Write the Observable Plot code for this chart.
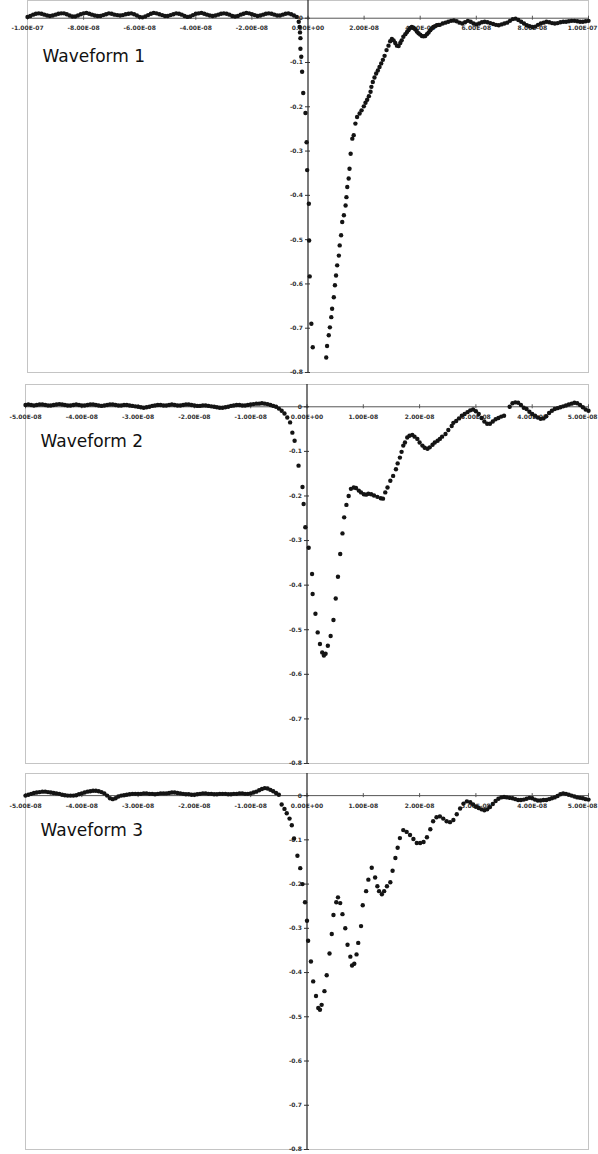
<!DOCTYPE html>
<html><head><meta charset="utf-8">
<script src="https://cdn.jsdelivr.net/npm/d3@7"></script>
<script src="https://cdn.jsdelivr.net/npm/@observablehq/plot@0.6"></script>
<style>
html,body{margin:0;padding:0;background:#fff;}
body{width:598px;height:1154px;overflow:hidden;position:relative;font-family:"DejaVu Sans",sans-serif;}
.panel{position:absolute;left:0;}
</style></head><body>
<div id="p1" class="panel" style="top:0px"></div>
<div id="p2" class="panel" style="top:380px"></div>
<div id="p3" class="panel" style="top:767px"></div>
<script>
// ---- tick values (ns) and labels ----
const xTicks1 = [-100,-80,-60,-40,-20,0,20,40,60,80,100];
const xLabels1 = ["-1.00E-07","-8.00E-08","-6.00E-08","-4.00E-08","-2.00E-08","0.00E+00","2.00E-08","4.00E-08","6.00E-08","8.00E-08","1.00E-07"];
const xTicks23 = [-50,-40,-30,-20,-10,0,10,20,30,40,50];
const xLabels23 = ["-5.00E-08","-4.00E-08","-3.00E-08","-2.00E-08","-1.00E-08","0.00E+00","1.00E-08","2.00E-08","3.00E-08","4.00E-08","5.00E-08"];
const yTicks = [0,-0.1,-0.2,-0.3,-0.4,-0.5,-0.6,-0.7,-0.8];
const yLabels = ["0","-0.1","-0.2","-0.3","-0.4","-0.5","-0.6","-0.7","-0.8"];
const titles = ["Waveform 1","Waveform 2","Waveform 3"];

// ---- Waveform 1 (time in ns, amplitude) ----
const w1PreStart = -100, w1PreStep = 1;
const w1Pre = [.003,.005,.008,.010,.011,.010,.008,.006,.005,.006,
 .008,.010,.011,.011,.009,.006,.004,.004,.006,.009,
 .011,.012,.010,.008,.006,.005,.005,.007,.009,.011,
 .010,.008,.007,.006,.007,.009,.010,.011,.009,.006,
 .003,.002,.004,.007,.010,.012,.011,.009,.007,.005,
 .005,.007,.009,.011,.010,.008,.005,.003,.004,.007,
 .010,.011,.012,.010,.008,.006,.005,.006,.008,.010,
 .011,.010,.008,.005,.004,.005,.008,.010,.012,.011,
 .009,.007,.005,.006,.008,.010,.011,.010,.008,.006,
 .006,.008,.010,.011,.009,.006,.003];
const w1PulseT = [-3.3,-3.0,-2.85,-2.7,-2.7,-2.4,-2.1,-1.7,-0.9,-0.5,
 -0.3,0.3,0.4,0.6,1.2,1.7,6.5,6.8,7.4,7.8,
 8.3,8.6,9.2,9.6,10.0,10.4,11.0,11.3,11.8,12.2,
 12.8,13.4,13.7,14.0,14.5,14.8,15.2,15.8,16.3,16.9,
 17.5,18.4,19.1,19.9,20.5,21.1,21.7,22.3,22.6,23.1,
 23.7,24.3,24.9,25.5,26.1,26.7,27.3,28.0,28.7,29.3,
 29.9,30.5,31.1,31.7,32.3,32.9,33.4,34.0,34.7,35.3,
 35.8,36.4,37.0,37.6,38.2,38.8,39.4,40.0,40.6,41.2,
 41.8,42.4,43.0,43.6,44.1,44.7,45.3,45.9,46.5];
const w1PulseV = [-0.008,-0.02,-0.032,-0.045,-0.069,-0.087,-0.121,-0.169,-0.214,-0.28,
 -0.343,-0.419,-0.502,-0.583,-0.69,-0.743,-0.766,-0.74,-0.716,-0.698,
 -0.675,-0.656,-0.63,-0.603,-0.581,-0.558,-0.536,-0.513,-0.49,-0.46,
 -0.445,-0.423,-0.404,-0.381,-0.362,-0.34,-0.306,-0.272,-0.264,-0.238,
 -0.223,-0.215,-0.208,-0.199,-0.191,-0.184,-0.176,-0.166,-0.155,-0.144,
 -0.134,-0.125,-0.118,-0.11,-0.102,-0.094,-0.085,-0.072,-0.062,-0.052,
 -0.047,-0.05,-0.056,-0.062,-0.063,-0.056,-0.05,-0.042,-0.036,-0.031,
 -0.027,-0.022,-0.02,-0.022,-0.025,-0.03,-0.034,-0.037,-0.04,-0.041,
 -0.04,-0.036,-0.032,-0.027,-0.023,-0.02,-0.018,-0.016,-0.015];
const w1PostStart = 47, w1PostStep = 1;
const w1Post = [-.015,-.012,-.010,-.008,-.006,-.005,-.007,-.010,-.012,-.009,
 -.006,-.008,-.012,-.014,-.012,-.009,-.008,-.009,-.011,-.013,
 -.015,-.016,-.014,-.012,-.010,-.006,-.002,-.001,-.004,-.008,
 -.012,-.016,-.018,-.020,-.019,-.015,-.012,-.010,-.008,-.009,
 -.011,-.012,-.011,-.009,-.008,-.008,-.007,-.006,-.006,-.007,
 -.008,-.008,-.007,-.006];

// ---- Waveform 2 ----
const w2PreStart = -50, w2PreStep = 0.5;
const w2Pre = [.004,.005,.004,.003,.004,.005,.005,.004,.003,.003,
 .004,.005,.006,.005,.004,.003,.003,.004,.005,.004,
 .003,.003,.004,.005,.005,.004,.003,.002,.003,.004,
 .005,.005,.004,.003,.003,.004,.004,.003,.002,.001,
 .000,-.001,-.002,-.001,.000,.002,.003,.004,.004,.003,
 .003,.004,.005,.004,.003,.003,.004,.005,.005,.004,
 .003,.002,.002,.003,.003,.002,.001,.000,-.001,-.002,
 -.002,-.001,.000,.002,.003,.004,.004,.003,.003,.004,
 .005,.006,.007,.007,.008,.007,.006,.004,.002,.000];
const w2PulseT = [-5,-4.5,-4,-3.5,-3,-2.6,-2.2,-1.5,-0.8,-0.6,
 -0.3,0.3,0.9,1.0,1.5,1.9,2.3,2.7,3.0,3.3,
 3.7,4.2,4.7,5.1,5.5,5.9,6.3,6.6,7.0,7.4,
 7.8,8.3,8.7,9.2,9.6,10.1,10.5,10.9,11.4,11.9,
 12.5,13.1,13.5,13.9,14.3,14.8,15.3,15.8,16.1,16.5,
 16.8,17.1,17.4,17.8,18.2,18.7,19.1,19.6,20.0,20.5,
 20.9,21.4,21.8,22.3,22.7,23.2,23.6,24.0,24.6,25.1,
 25.7,26.0];
const w2PulseV = [-0.004,-0.009,-0.015,-0.024,-0.035,-0.058,-0.076,-0.132,-0.18,-0.218,
 -0.27,-0.316,-0.375,-0.42,-0.464,-0.506,-0.532,-0.551,-0.558,-0.554,
 -0.536,-0.514,-0.478,-0.43,-0.381,-0.33,-0.284,-0.248,-0.22,-0.2,
 -0.184,-0.181,-0.182,-0.188,-0.192,-0.196,-0.197,-0.195,-0.196,-0.199,
 -0.202,-0.205,-0.206,-0.192,-0.181,-0.166,-0.155,-0.14,-0.127,-0.114,
 -0.101,-0.087,-0.08,-0.069,-0.065,-0.063,-0.067,-0.072,-0.08,-0.087,
 -0.092,-0.094,-0.091,-0.085,-0.08,-0.076,-0.072,-0.067,-0.061,-0.052,
 -0.043,-0.036];
const w2PostStart = 26.5, w2PostStep = 0.5;
const w2Post = [-.032,-.026,-.020,-.016,-.012,-.008,-.006,-.010,-.016,-.025,
 -.033,-.038,-.038,-.033,-.028,-.025,-.022,-.020,null,.000,
 .008,.010,.009,.004,-.002,-.005,-.011,-.016,-.020,-.024,
 -.027,-.026,-.021,-.014,-.009,-.005,-.003,-.001,.001,.003,
 .005,.007,.009,.008,.004,-.001,-.006,-.009];

// ---- Waveform 3 ----
const w3PreStart = -50, w3PreStep = 0.5;
const w3Pre = [.000,.002,.004,.006,.007,.008,.009,.009,.008,.007,
 .006,.005,.004,.002,.001,.000,.000,.000,.001,.003,
 .005,.007,.009,.010,.011,.011,.010,.008,.005,.000,
 -.006,-.008,-.006,-.002,.000,.001,.002,.003,.004,.004,
 .004,.004,.005,.005,.004,.004,.003,.004,.005,.005,
 .005,.006,.007,.007,.006,.005,.004,.003,.003,.002,
 .002,.003,.004,.005,.005,.004,.004,.003,.003,.004,
 .004,.004,.003,.003,.004,.004,.005,.005,.004,.004,
 .005,.007,.009,.012,.015,.017,.016,.013,.010,.006,
 .002];
const w3PulseT = [-4.5,-4.0,-3.6,-3.1,-2.7,-2.3,-1.7,-1.2,-0.8,-0.35,
 0.0,0.2,0.7,1.1,1.6,2.0,2.3,2.6,3.1,3.5,
 4.0,4.4,4.7,5.2,5.5,5.9,6.3,6.8,7.2,7.7,
 8.0,8.4,8.8,9.1,9.6,9.9,10.5,10.9,11.5,12.1,
 12.5,12.8,13.3,13.7,14.2,14.8,15.2,15.7,16.1,16.5,
 17.1,17.7,18.3,18.9,19.5,20.1,20.7,21.3,21.9,22.4,
 23.0,23.6,24.2,24.8,25.4,26.0,26.6,27.2,27.8,28.4,
 29.0,29.5,30.0];
const w3PulseV = [-0.02,-0.03,-0.04,-0.052,-0.067,-0.097,-0.136,-0.164,-0.2,-0.241,
 -0.283,-0.328,-0.375,-0.42,-0.453,-0.48,-0.484,-0.473,-0.442,-0.406,
 -0.357,-0.313,-0.27,-0.241,-0.23,-0.243,-0.268,-0.3,-0.337,-0.364,
 -0.384,-0.38,-0.359,-0.333,-0.295,-0.248,-0.216,-0.19,-0.163,-0.185,
 -0.205,-0.216,-0.223,-0.216,-0.205,-0.196,-0.17,-0.141,-0.118,-0.096,
 -0.078,-0.082,-0.089,-0.098,-0.107,-0.107,-0.105,-0.094,-0.076,-0.058,
 -0.049,-0.047,-0.052,-0.058,-0.06,-0.055,-0.042,-0.029,-0.018,-0.013,
 -0.015,-0.02,-0.025];
const w3PostStart = 30.5, w3PostStep = 0.5;
const w3Post = [-.028,-.031,-.033,-.031,-.026,-.019,-.012,-.007,-.004,-.003,
 -.004,-.005,-.006,-.008,-.010,-.010,-.009,-.007,-.005,-.006,
 -.009,-.011,-.011,-.010,-.010,-.008,-.006,-.004,-.001,.003,
 .005,.004,.002,.000,-.002,-.004,-.005,-.006,-.008,-.009];

// ---- assemble ----
function grid(start, step, vals) { return vals.map((v, i) => ({t: start + i * step, v})); }
function pairs(ts, vs) { return ts.map((t, i) => ({t, v: vs[i]})); }
function series(pre, pulse, post) { return [...pre, ...pulse, ...post].filter(d => d.v != null); }

const data1 = series(grid(w1PreStart, w1PreStep, w1Pre), pairs(w1PulseT, w1PulseV), grid(w1PostStart, w1PostStep, w1Post));
const data2 = series(grid(w2PreStart, w2PreStep, w2Pre), pairs(w2PulseT, w2PulseV), grid(w2PostStart, w2PostStep, w2Post));
const data3 = series(grid(w3PreStart, w3PreStep, w3Pre), pairs(w3PulseT, w3PulseV), grid(w3PostStart, w3PostStep, w3Post));

function panel(o) {
  const n = o.xTicks.length;
  const inner = o.xTicks.slice(0, n - 1), innerLab = o.xLabels.slice(0, n - 1);
  const last = [o.xTicks[n - 1]], lastLab = [o.xLabels[n - 1]];
  const labStyle = {fontSize: 6, fontWeight: "bold", fill: "#333"};
  return Plot.plot({
    width: 598, height: o.height,
    marginLeft: o.ml, marginRight: o.mr, marginTop: o.mt, marginBottom: o.mb,
    x: {domain: o.xDomain, axis: null},
    y: {domain: o.yDomain, axis: null},
    style: {background: "transparent", overflow: "visible", fontFamily: "DejaVu Sans, sans-serif"},
    marks: [
      Plot.frame({stroke: "#c4c4c4", strokeWidth: 1}),
      Plot.ruleY([0], {stroke: "#555", strokeWidth: 1}),
      Plot.ruleX(o.xTicks, {x: d => d, y1: 0, y2: 0, insetTop: -2, insetBottom: -2, stroke: "#555"}),
      Plot.text(inner, {x: d => d, y: 0, text: (d, i) => innerLab[i], dy: 10, ...labStyle}),
      Plot.text(last, {x: d => d, y: 0, text: (d, i) => lastLab[i], dy: 10, dx: 9, textAnchor: "end", ...labStyle}),
      Plot.ruleX([0], {stroke: "#222", strokeWidth: 1.2}),
      Plot.ruleY(yTicks, {y: d => d, x1: 0, x2: 0, insetLeft: -2.5, insetRight: -2.5, stroke: "#333"}),
      Plot.text(yTicks, {x: 0, y: d => d, text: (d, i) => yLabels[i], dx: -5, textAnchor: "end", ...labStyle}),
      Plot.dot(o.data, {x: "t", y: "v", r: 2.2, fill: "#141414", stroke: null}),
      Plot.text([o.title], {frameAnchor: "top-left", dx: o.tdx, dy: o.tdy, lineAnchor: "top", textAnchor: "start", fontSize: 17, fill: "#111"})
    ]
  });
}

document.getElementById("p1").append(panel({height: 376, ml: 27, mr: 10, mt: 0, mb: 4, xDomain: [-100, 100], yDomain: [-0.8, 0.04],
  xTicks: xTicks1, xLabels: xLabels1, data: data1, title: titles[0], tdx: 15, tdy: 49}));
document.getElementById("p2").append(panel({height: 387, ml: 25, mr: 10, mt: 4, mb: 4, xDomain: [-50, 50], yDomain: [-0.8, 0.05],
  xTicks: xTicks23, xLabels: xLabels23, data: data2, title: titles[1], tdx: 15, tdy: 50}));
document.getElementById("p3").append(panel({height: 387, ml: 25, mr: 10, mt: 6, mb: 5, xDomain: [-50, 50], yDomain: [-0.8, 0.05],
  xTicks: xTicks23, xLabels: xLabels23, data: data3, title: titles[2], tdx: 15, tdy: 50}));
</script>
</body></html>
